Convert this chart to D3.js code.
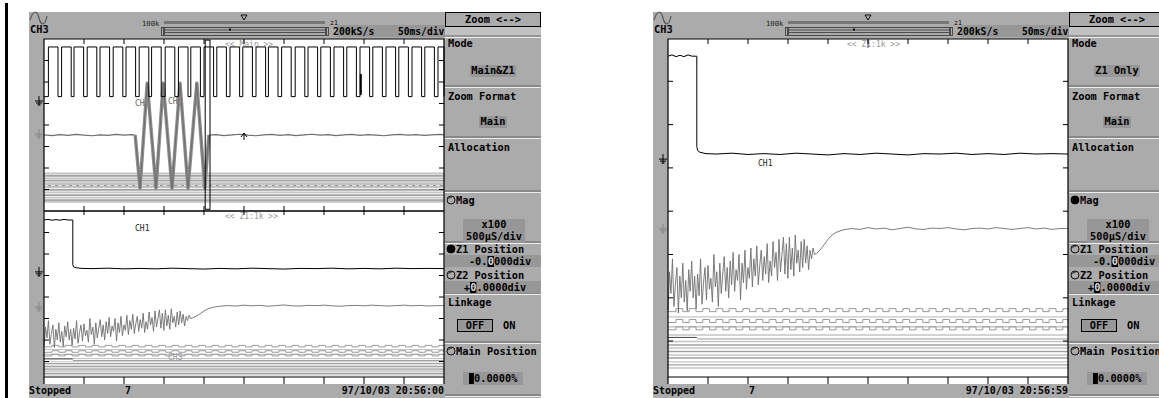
<!DOCTYPE html>
<html>
<head>
<meta charset="utf-8">
<script src="https://cdn.jsdelivr.net/npm/d3@7"></script>
<style>
  body { margin: 0; background: #fff; }
  svg { display: block; }
  text { font-family: "DejaVu Sans Mono", monospace; }
</style>
</head>
<body>
<div id="chart"></div>
<script>
const xTicks = [1, 2, 3, 4, 5, 6, 7, 8, 9];
const yTicks = [1, 2, 3, 4, 5, 6, 7];

// main window: CH3 clock, rising edges
const clkRise = [0.11, 0.44, 0.75, 1.08, 1.40, 1.73, 2.05, 2.38, 2.69, 3.03, 3.36, 3.67, 4.00, 4.32, 4.65,
  4.97, 5.30, 5.61, 5.94, 6.28, 6.60, 6.92, 7.25, 7.57, 7.90, 8.22, 8.55, 8.87, 9.20, 9.52, 9.85];
const clkLevels = [0.37, 2.68]; // high, low
const clkWidth = 0.24;
const clkGlitch = [7.92, 1.63, 2.6];

// main window: CH2 baseline and burst
const mainCh2 = [[0, 4.46], [0.2, 4.49], [0.4, 4.45], [0.6, 4.48], [0.8, 4.44], [1.0, 4.47], [1.2, 4.5],
  [1.4, 4.46], [1.6, 4.48], [1.8, 4.44], [2.0, 4.47], [2.2, 4.45], [2.28, 4.47], [null, null],
  [4.12, 4.47], [4.3, 4.45], [4.5, 4.49], [4.7, 4.46], [4.9, 4.43], [5.1, 4.47], [5.3, 4.5], [5.5, 4.46],
  [5.7, 4.44], [5.9, 4.48], [6.1, 4.45], [6.3, 4.49], [6.5, 4.46], [6.7, 4.43], [6.9, 4.47], [7.1, 4.45],
  [7.3, 4.49], [7.5, 4.46], [7.7, 4.44], [7.9, 4.48], [8.1, 4.45], [8.3, 4.47], [8.5, 4.5], [8.7, 4.46],
  [8.9, 4.44], [9.1, 4.47], [9.3, 4.45], [9.5, 4.48], [9.7, 4.46], [9.9, 4.44], [10, 4.46]];
const mainBurst = [[2.28, 4.47], [2.40, 6.95], [2.58, 2.05], [2.80, 6.95], [2.98, 2.05], [3.20, 6.95],
  [3.40, 2.05], [3.60, 6.95], [3.82, 2.05], [4.02, 6.95], [4.12, 4.47]];
const zoomBox = [4.03, 4.15, 0.05, 7.92];
const mainBus = [6.25, 6.36, 6.48, 6.59, 6.71, 6.82, 6.90, 7.02, 7.13, 7.26, 7.38, 7.49, 7.57];
const mainBusKind = ['l', 'd', 'l', 'd', 'l', 'x', 'l', 'd', 'l', 'd', 'l', 'd', 'l'];

// zoom window (Z1 1k): CH1, CH2, bus
const zoomCh1 = [[0, 0.42], [0.1, 0.39], [0.2, 0.43], [0.3, 0.40], [0.4, 0.43], [0.5, 0.39], [0.6, 0.42],
  [0.72, 0.42], [0.72, 2.5], [0.74, 2.6], [0.8, 2.64], [0.95, 2.67], [1.2, 2.68], [1.6, 2.66], [2.0, 2.69],
  [2.4, 2.67], [2.8, 2.69], [3.2, 2.66], [3.6, 2.68], [4.0, 2.70], [4.4, 2.67], [4.8, 2.69], [5.2, 2.66],
  [5.6, 2.68], [6.0, 2.70], [6.4, 2.67], [6.8, 2.68], [7.2, 2.66], [7.6, 2.69], [8.0, 2.67], [8.4, 2.69],
  [8.8, 2.66], [9.2, 2.68], [9.6, 2.67], [10, 2.68]];
const zoomCh2Step = 0.037;
const zoomCh2Noise = [
  6.3, 5.4, 5.9, 5.1, 6.2, 5.7, 5.3, 6.35, 5.5, 6.0,
  5.2, 6.1, 5.6, 6.3, 5.35, 5.85, 5.15, 6.0, 5.5, 6.25,
  5.45, 5.95, 5.1, 6.15, 5.65, 5.3, 6.05, 5.25, 5.8, 5.55,
  6.1, 5.0, 5.75, 5.4, 6.2, 5.2, 5.9, 5.45, 5.05, 5.85,
  5.3, 6.0, 5.15, 5.7, 4.95, 5.85, 5.35, 5.6, 5.0, 6.05,
  5.2, 5.65, 4.9, 5.8, 5.3, 5.55, 4.85, 5.75, 5.1, 5.5,
  4.8, 5.7, 5.25, 4.9, 5.6, 5.05, 5.45, 4.75, 5.65, 5.15,
  5.5, 4.7, 5.3, 4.95, 5.6, 4.65, 5.4, 5.0, 4.6, 5.45,
  4.75, 5.55, 4.6, 5.35, 4.85, 5.5, 4.55, 5.2, 4.9, 5.4,
  4.7, 5.3, 4.65, 5.2, 4.8, 5.35, 4.9, 5.1, 4.85, 5.0];
const zoomCh2Rise = [[3.72, 4.97], [3.8, 4.9], [3.9, 4.78], [4.0, 4.65], [4.1, 4.55], [4.2, 4.49], [4.35, 4.44], [4.5, 4.41]];
const zoomCh2Flat = [[4.6, 4.40], [4.8, 4.42], [5.0, 4.38], [5.2, 4.41], [5.4, 4.39], [5.6, 4.43], [5.8, 4.40],
  [6.0, 4.37], [6.2, 4.41], [6.4, 4.42], [6.6, 4.39], [6.8, 4.40], [7.0, 4.38], [7.2, 4.41], [7.4, 4.43],
  [7.6, 4.40], [7.8, 4.39], [8.0, 4.41], [8.2, 4.38], [8.4, 4.40], [8.6, 4.42], [8.8, 4.40], [9.0, 4.38],
  [9.2, 4.41], [9.4, 4.39], [9.6, 4.42], [9.8, 4.40], [10, 4.40]];
const zoomBus = [6.32, 6.44, 6.57, 6.67, 6.74, 6.86, 6.95, 7.01, 7.09, 7.16, 7.24, 7.32, 7.39, 7.48, 7.55, 7.62];
const zoomBusKind = ['c', 'l', 'c', 'l', 'c', 'l', 's', 'l', 'd', 'l', 'd', 'l', 'd', 'l', 'd', 'l'];
const busClkRise = [0.2, 0.53, 0.87, 1.2, 1.53, 1.87, 2.2, 2.53, 2.87, 3.2, 3.53, 3.87, 4.2, 4.53, 4.87,
  5.2, 5.53, 5.87, 6.2, 6.53, 6.87, 7.2, 7.53, 7.87, 8.2, 8.53, 8.87, 9.2, 9.53, 9.87];
const busClkWidth = 0.17;
const busStep = 0.72;

// panel / status texts
const screens = [
  { name: 'left', mode: 'Main&Z1', magOn: false, z1On: true, time: '97/10/03 20:56:00' },
  { name: 'right', mode: 'Z1 Only', magOn: true, z1On: false, time: '97/10/03 20:56:59' }
];

// ---- drawing ----
const W = 1159, H = 398;
const FRAME = '#ababab', DARK = '#979797', TRACE2 = '#6e6e6e';

const svg = d3.select('#chart').append('svg')
  .attr('width', W).attr('height', H)
  .attr('viewBox', `0 0 ${W} ${H}`);

svg.append('rect').attr('width', W).attr('height', H).attr('fill', '#fff');
svg.append('rect').attr('x', 5).attr('y', 3).attr('width', 3).attr('height', H).attr('fill', '#000');

function txt(g, x, y, s, opt = {}) {
  return g.append('text')
    .attr('x', x).attr('y', y)
    .attr('font-size', opt.size || 10.3)
    .attr('font-weight', opt.weight || 'bold')
    .attr('text-anchor', opt.anchor || 'start')
    .attr('fill', opt.fill || '#000')
    .text(s);
}

function ground(g, x, y, color) {
  const p = g.append('g').attr('stroke', color).attr('stroke-width', 1).attr('fill', 'none');
  p.append('line').attr('x1', x).attr('x2', x).attr('y1', y - 6).attr('y2', y + 3);
  p.append('line').attr('x1', x - 4).attr('x2', x + 4).attr('y1', y - 1).attr('y2', y - 1);
  p.append('line').attr('x1', x - 3).attr('x2', x + 3).attr('y1', y + 1).attr('y2', y + 1);
  p.append('line').attr('x1', x - 1.5).attr('x2', x + 1.5).attr('y1', y + 3).attr('y2', y + 3);
}

function clockPath(x, y, rises, width, hi, lo) {
  const [x0, x1] = x.domain();
  const pts = [[x0, lo]];
  rises.forEach(r => {
    pts.push([r, lo], [r, hi], [Math.min(r + width, x1), hi], [Math.min(r + width, x1), lo]);
  });
  pts.push([x1, lo]);
  return d3.line().x(d => x(d[0])).y(d => y(d[1]))(pts);
}

function hline(g, x, yy, x0, x1, color, w) {
  return g.append('line').attr('x1', x(x0)).attr('x2', x(x1)).attr('y1', yy).attr('y2', yy)
    .attr('stroke', color).attr('stroke-width', w);
}

function drawBus(g, x, y, levels, kinds, amp, w) {
  levels.forEach((lv, i) => {
    const k = kinds[i];
    if (k === 'c') {
      g.append('path')
        .attr('d', clockPath(x, y, busClkRise, busClkWidth, lv - amp, lv))
        .attr('fill', 'none').attr('stroke', '#9a9a9a').attr('stroke-width', 1);
    } else if (k === 's') {
      hline(g, x, y(lv) - 1.5, 0, busStep, '#444', 1);
      hline(g, x, y(lv), busStep, 10, '#9a9a9a', 1);
    } else if (k === 'x') {
      hline(g, x, y(lv), 0, 10, '#999', 2.2);
      hline(g, x, y(lv), 0, 10, '#fff', 0.8).attr('stroke-dasharray', '4,3');
    } else {
      hline(g, x, y(lv), 0, 10, k === 'd' ? '#a2a2a2' : '#c4c4c4', w);
    }
  });
}

function axesTicks(g, x, y, left, right) {
  const tk = g.append('g').attr('stroke', '#000').attr('stroke-width', 1);
  yTicks.forEach(t => {
    tk.append('line').attr('x1', left).attr('x2', left + 5).attr('y1', y(t)).attr('y2', y(t));
    tk.append('line').attr('x1', right - 5).attr('x2', right).attr('y1', y(t)).attr('y2', y(t));
  });
  return tk;
}

function xTickRow(g, x, y0, y1) {
  const tk = g.append('g').attr('stroke', '#000').attr('stroke-width', 1);
  xTicks.forEach(t => tk.append('line').attr('x1', x(t)).attr('x2', x(t)).attr('y1', y0).attr('y2', y1));
}

function drawZoomTraces(g, x, y, amp, busW) {
  drawBus(g, x, y, zoomBus, zoomBusKind, amp, busW);
  const line = d3.line().x(d => x(d[0])).y(d => y(d[1]));
  const noisePts = zoomCh2Noise.map((v, i) => [i * zoomCh2Step, v]);
  g.append('path').attr('d', line(noisePts.concat(zoomCh2Rise, zoomCh2Flat)))
    .attr('fill', 'none').attr('stroke', TRACE2).attr('stroke-width', 0.9);
  g.append('path').attr('d', line(zoomCh1))
    .attr('fill', 'none').attr('stroke', '#000').attr('stroke-width', 1);
}

function drawScreen(s, ox) {
  const g = svg.append('g');
  const plotL = ox, plotR = ox + 400, plotT = 39, plotB = 384, baseLine = 377;
  const panelL = plotR + 1, panelR = panelL + 96;

  // frame
  g.append('rect').attr('x', ox - 15).attr('y', 12).attr('width', panelR - ox + 15).attr('height', H - 12)
    .attr('fill', FRAME);
  g.append('rect').attr('x', plotL).attr('y', plotT).attr('width', 400).attr('height', plotB - plotT)
    .attr('fill', '#fff');

  // header
  g.append('path')
    .attr('d', `M${ox - 14},20 C${ox - 11},10 ${ox - 7},10 ${ox - 5},18 S${ox + 1},26 ${ox + 3},16`)
    .attr('fill', 'none').attr('stroke', '#555').attr('stroke-width', 1.2);
  txt(g, ox - 14, 33, 'CH3');
  txt(g, ox + 98, 26, '100k', { size: 7.2, weight: 'normal', fill: '#222' });
  g.append('rect').attr('x', ox + 120).attr('y', 21).attr('width', 161).attr('height', 3).attr('fill', '#777');
  g.append('rect').attr('x', ox + 117.5).attr('y', 27.5).attr('width', 2).attr('height', 8)
    .attr('fill', 'none').attr('stroke', '#333').attr('stroke-width', 0.8);
  g.append('rect').attr('x', ox + 120.5).attr('y', 27.5).attr('width', 161).attr('height', 8)
    .attr('fill', 'none').attr('stroke', '#333').attr('stroke-width', 0.8);
  [30, 32.5].forEach(yy => g.append('line').attr('x1', ox + 120.5).attr('x2', ox + 281.5)
    .attr('y1', yy).attr('y2', yy).attr('stroke', '#333').attr('stroke-width', 0.8));
  g.append('rect').attr('x', ox + 282.5).attr('y', 27.5).attr('width', 2).attr('height', 8)
    .attr('fill', 'none').attr('stroke', '#333').attr('stroke-width', 0.8);
  g.append('rect').attr('x', ox + 185).attr('y', 28.5).attr('width', 2).attr('height', 2).attr('fill', '#000');
  g.append('path').attr('d', `M${ox + 197},15 L${ox + 203},15 L${ox + 200},20 Z`)
    .attr('fill', 'none').attr('stroke', '#000').attr('stroke-width', 0.9);
  g.append('rect').attr('x', ox + 293).attr('y', 25).attr('width', 108).attr('height', 12).attr('fill', DARK);
  txt(g, ox + 286, 25, 'z1', { size: 6.5, weight: 'normal' });
  txt(g, ox + 289, 34.5, '200kS/s', { size: 9.8 });
  txt(g, ox + 354, 34.5, '50ms/div', { size: 9.6 });

  const x = d3.scaleLinear().domain([0, 10]).range([plotL, plotR]);

  if (s.name === 'left') {
    const yMain = d3.scaleLinear().domain([0, 8]).range([39, 211]);
    const yZoom = d3.scaleLinear().domain([0, 8]).range([211, 383]);
    const main = g.append('g');
    drawBus(main, x, yMain, mainBus, mainBusKind, 0, 1.8);
    txt(main, ox + 181, 47, '<< Main >>', { size: 8, weight: 'normal', fill: '#999' });
    main.append('path').attr('d', d3.line().x(d => x(d[0])).y(d => yMain(d[1])).defined(d => d[0] !== null)(mainCh2))
      .attr('fill', 'none').attr('stroke', TRACE2).attr('stroke-width', 1.2);
    main.append('path').attr('d', d3.line().x(d => x(d[0])).y(d => yMain(d[1]))(mainBurst))
      .attr('fill', 'none').attr('stroke', '#8c8c8c').attr('stroke-width', 3.4).attr('stroke-linejoin', 'round');
    main.append('path').attr('d', d3.line().x(d => x(d[0])).y(d => yMain(d[1]))(mainBurst))
      .attr('fill', 'none').attr('stroke', '#666').attr('stroke-width', 0.8);
    main.append('path').attr('d', clockPath(x, yMain, clkRise, clkWidth, clkLevels[0], clkLevels[1]))
      .attr('fill', 'none').attr('stroke', '#000').attr('stroke-width', 1);
    main.append('line').attr('x1', x(clkGlitch[0])).attr('x2', x(clkGlitch[0]))
      .attr('y1', yMain(clkGlitch[1])).attr('y2', yMain(clkGlitch[2])).attr('stroke', '#000').attr('stroke-width', 2);
    main.append('rect').attr('x', x(zoomBox[0])).attr('y', yMain(zoomBox[2]))
      .attr('width', x(zoomBox[1]) - x(zoomBox[0])).attr('height', yMain(zoomBox[3]) - yMain(zoomBox[2]))
      .attr('fill', 'none').attr('stroke', '#000').attr('stroke-width', 1);
    txt(main, ox + 91, 106, 'CH', { size: 8, weight: 'normal', fill: '#666' });
    txt(main, ox + 124, 104, 'CH', { size: 8, weight: 'normal', fill: '#666' });
    main.append('path').attr('d', `M${x(5)},140 L${x(5)},133 M${x(5) - 3},137 L${x(5)},133 L${x(5) + 3},137`)
      .attr('fill', 'none').attr('stroke', '#000');

    const zg = g.append('g');
    drawZoomTraces(zg, x, yZoom, 0.07, 1.1);
    txt(zg, ox + 91, 231, 'CH1', { size: 8, weight: 'normal', fill: '#222' });
    txt(zg, ox + 124, 360, 'CH3', { size: 8, weight: 'normal', fill: '#999' });
    txt(zg, ox + 181, 219, '<< Z1:1k >>', { size: 8, weight: 'normal', fill: '#999' });

    axesTicks(g, x, yMain, plotL, plotR);
    axesTicks(g, x, yZoom, plotL, plotR);
    xTickRow(g, x, plotT, plotT + 5);
    xTickRow(g, x, 206, 215);
    g.append('line').attr('x1', plotL).attr('x2', plotR).attr('y1', 211).attr('y2', 211)
      .attr('stroke', '#000').attr('stroke-width', 1.5);
    ground(g, ox - 5, yMain(2.93), '#000');
    ground(g, ox - 5, yMain(4.47), '#888');
    ground(g, ox - 5, yZoom(2.88), '#000');
    ground(g, ox - 5, yZoom(4.51), '#888');
  } else {
    const yZoom = d3.scaleLinear().domain([0, 8]).range([38, 384.4]);
    const zg = g.append('g');
    drawZoomTraces(zg, x, yZoom, 0.07, 1.4);
    txt(zg, ox + 90, 166, 'CH1', { size: 8, weight: 'normal', fill: '#222' });
    txt(zg, ox + 179, 47, '<< Z1:1k >>', { size: 8, weight: 'normal', fill: '#999' });
    zg.append('line').attr('x1', x(5)).attr('x2', x(5)).attr('y1', 40).attr('y2', 48).attr('stroke', '#555');
    axesTicks(g, x, yZoom, plotL, plotR);
    xTickRow(g, x, plotT, plotT + 5);
    ground(g, ox - 5, yZoom(2.82), '#000');
    ground(g, ox - 5, yZoom(4.43), '#888');
  }
  // plot border and bottom graticule line
  g.append('line').attr('x1', plotL).attr('x2', plotR).attr('y1', baseLine).attr('y2', baseLine)
    .attr('stroke', '#000').attr('stroke-width', 1.2);
  xTickRow(g, x, baseLine, plotB);
  g.append('path').attr('d', `M${plotL},${plotB} V${plotT} H${plotR} V${plotB}`)
    .attr('fill', 'none').attr('stroke', '#000').attr('stroke-width', 1.2);

  // status line
  txt(g, ox - 15, 394, 'Stopped', { size: 10 });
  txt(g, ox + 81, 394, '7', { size: 10 });
  txt(g, plotR, 394, s.time, { size: 10, anchor: 'end' });

  // side panel
  const p = g.append('g');
  p.append('rect').attr('x', panelL + 0.5).attr('y', 12.5).attr('width', 95).attr('height', 14)
    .attr('fill', FRAME).attr('stroke', '#000');
  txt(p, panelL + 48, 23, 'Zoom <-->', { anchor: 'middle' });
  p.append('rect').attr('x', panelL).attr('y', 27).attr('width', 96).attr('height', 10).attr('fill', '#c2c2c2');
  [37, 87, 138, 192, 243, 294, 343, 396].forEach(yy => {
    p.append('line').attr('x1', panelL).attr('x2', panelR).attr('y1', yy - 1).attr('y2', yy - 1).attr('stroke', '#666');
    p.append('line').attr('x1', panelL).attr('x2', panelR).attr('y1', yy + 0.5).attr('y2', yy + 0.5).attr('stroke', '#eee');
  });
  txt(p, panelL + 3, 47, 'Mode');
  p.append('rect').attr('x', panelL + 25).attr('y', 65).attr('width', 46).attr('height', 12).attr('fill', DARK);
  txt(p, panelL + 48, 74, s.mode, { anchor: 'middle' });
  txt(p, panelL + 3, 100, 'Zoom Format');
  p.append('rect').attr('x', panelL + 34).attr('y', 116).attr('width', 28).attr('height', 12).attr('fill', DARK);
  txt(p, panelL + 48, 125, 'Main', { anchor: 'middle' });
  txt(p, panelL + 3, 151, 'Allocation');

  const knob = (cx, cy, on) => {
    p.append('circle').attr('cx', cx).attr('cy', cy).attr('r', 4)
      .attr('fill', on ? '#000' : 'none').attr('stroke', '#000').attr('stroke-width', 0.9);
    if (!on) {
      p.append('path').attr('d', `M${cx - 2.5},${cy - 1} A3,3 0 0 1 ${cx + 1},${cy - 3}`)
        .attr('fill', 'none').attr('stroke', '#000').attr('stroke-width', 0.8);
    }
  };
  knob(panelL + 6, 200, s.magOn);
  txt(p, panelL + 11, 204, 'Mag');
  p.append('rect').attr('x', panelL + 18).attr('y', 219).attr('width', 62).attr('height', 24).attr('fill', DARK);
  txt(p, panelL + 49, 228, 'x100', { anchor: 'middle' });
  txt(p, panelL + 49, 240, '500µS/div', { anchor: 'middle' });

  // position readouts with an inverted cursor digit
  const readout = (y0, pre, post, cx) => {
    p.append('rect').attr('x', panelL).attr('y', y0).attr('width', 96).attr('height', 12).attr('fill', DARK);
    p.append('rect').attr('x', panelL + cx).attr('y', y0 + 1).attr('width', 6.4).attr('height', 11).attr('fill', '#000');
    txt(p, panelL + cx, y0 + 10, pre, { anchor: 'end' });
    txt(p, panelL + cx + 0.2, y0 + 10, '0', { fill: '#ddd' });
    txt(p, panelL + cx + 6.6, y0 + 10, post);
  };
  knob(panelL + 6, 249, s.z1On);
  txt(p, panelL + 11, 253, 'Z1 Position');
  readout(255, '-0.', '000div', 42.5);
  knob(panelL + 6, 275, false);
  txt(p, panelL + 11, 279, 'Z2 Position');
  readout(281, '+', '.0000div', 25);
  txt(p, panelL + 3, 306, 'Linkage');
  p.append('rect').attr('x', panelL + 12.5).attr('y', 319.5).attr('width', 35).attr('height', 12)
    .attr('fill', DARK).attr('stroke', '#000');
  txt(p, panelL + 30, 329, 'OFF', { anchor: 'middle' });
  txt(p, panelL + 58, 329, 'ON');
  knob(panelL + 6, 351, false);
  txt(p, panelL + 11, 355, 'Main Position');
  p.append('rect').attr('x', panelL + 18).attr('y', 372).attr('width', 60).attr('height', 13).attr('fill', DARK);
  p.append('rect').attr('x', panelL + 24).attr('y', 373).attr('width', 5).attr('height', 11).attr('fill', '#000');
  txt(p, panelL + 29, 382, '0.0000%');
}

drawScreen(screens[0], 44);
drawScreen(screens[1], 668);
</script>
</body>
</html>
